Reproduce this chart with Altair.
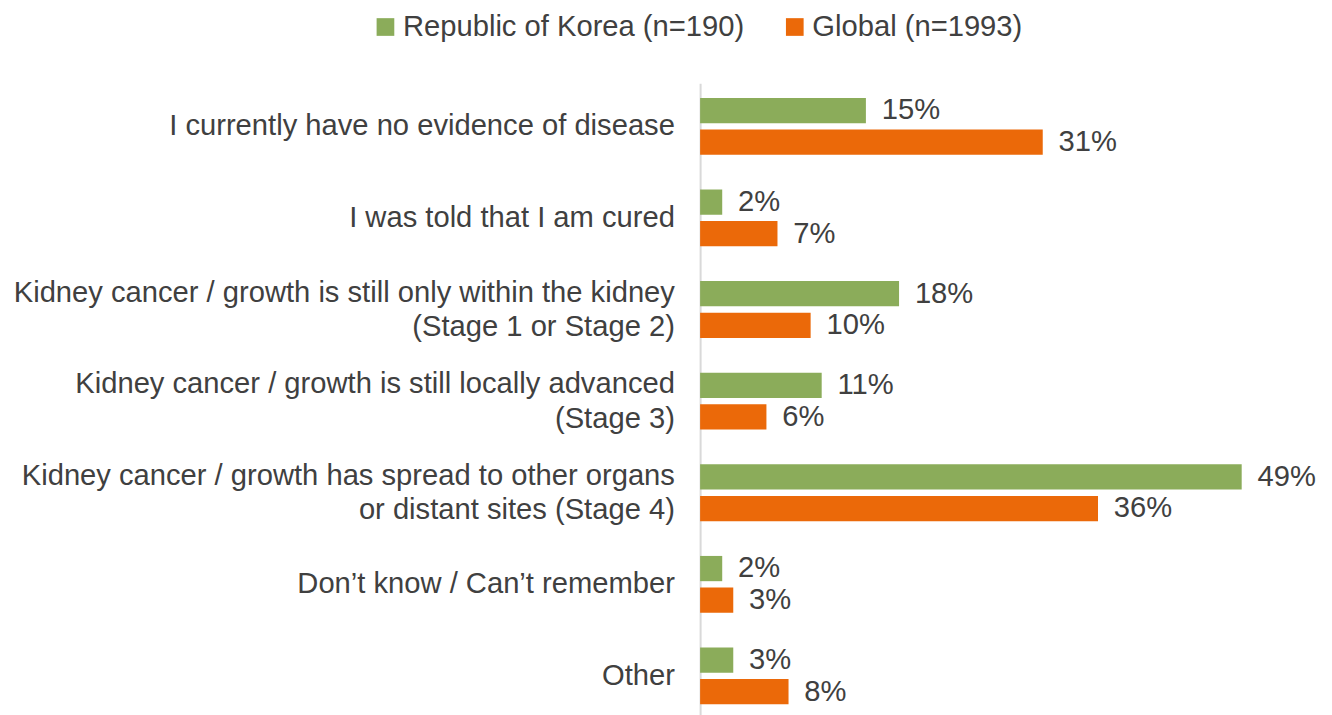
import altair as alt
import pandas as pd

categories = [
    "I currently have no evidence of disease",
    "I was told that I am cured",
    "Kidney cancer / growth is still only within the kidney|(Stage 1 or Stage 2)",
    "Kidney cancer / growth is still locally advanced|(Stage 3)",
    "Kidney cancer / growth has spread to other organs|or distant sites (Stage 4)",
    "Don\u2019t know / Can\u2019t remember",
    "Other",
]
series = ["Republic of Korea (n=190)", "Global (n=1993)"]
korea = [15, 2, 18, 11, 49, 2, 3]
global_ = [31, 7, 10, 6, 36, 3, 8]
colors = ["#8BAC5A", "#EB6909"]

rows = []
for c, k, g in zip(categories, korea, global_):
    rows.append({"cat": c, "series": series[0], "value": k, "label": f"{k}%"})
    rows.append({"cat": c, "series": series[1], "value": g, "label": f"{g}%"})
df = pd.DataFrame(rows)

FONT = "Liberation Sans"
TXT = "#404040"
FS = 29.5

y_enc = alt.Y("cat:N", sort=categories,
              scale=alt.Scale(paddingInner=0.38, paddingOuter=0.16),
              axis=alt.Axis(title=None, ticks=False, labelFont=FONT, labelFontSize=FS,
                            labelColor=TXT, labelPadding=26, labelLimit=900,
                            labelExpr="split(datum.label, '|')", labelLineHeight=35,
                            labelOffset={"condition": {"test": "indexof(datum.label, '|') >= 0",
                                                       "value": -17},
                                         "value": 0},
                            domainColor="#D9D9D9", domainWidth=2))
yoff = alt.YOffset("series:N", sort=series, scale=alt.Scale(paddingInner=0.2))
x_enc = alt.X("value:Q", scale=alt.Scale(domain=[0, 56], nice=False), axis=None)

bars = alt.Chart(df).mark_bar().encode(
    x=x_enc, y=y_enc, yOffset=yoff,
    color=alt.Color("series:N", sort=series,
                    scale=alt.Scale(domain=series, range=colors),
                    legend=alt.Legend(title=None, orient="none", direction="horizontal",
                                      legendX=-333, legendY=-72,
                                      symbolType="square", symbolSize=320,
                                      symbolStrokeWidth=0, symbolOpacity=1,
                                      labelFont=FONT, labelFontSize=FS, labelColor=TXT,
                                      columnPadding=36, labelOffset=3, labelLimit=700)),
)

text = alt.Chart(df).mark_text(align="left", baseline="middle", dx=16, font=FONT,
                               fontSize=FS, color=TXT).encode(
    x=x_enc, y=alt.Y("cat:N", sort=categories), yOffset=yoff, text="label:N"
)

chart = (bars + text).properties(
    width=626, height=643,
    padding={"top": 0, "left": 5, "right": 5, "bottom": 5},
).configure_view(stroke=None)

chart.save("out.html", embed_options={"renderer": "svg", "actions": False})
